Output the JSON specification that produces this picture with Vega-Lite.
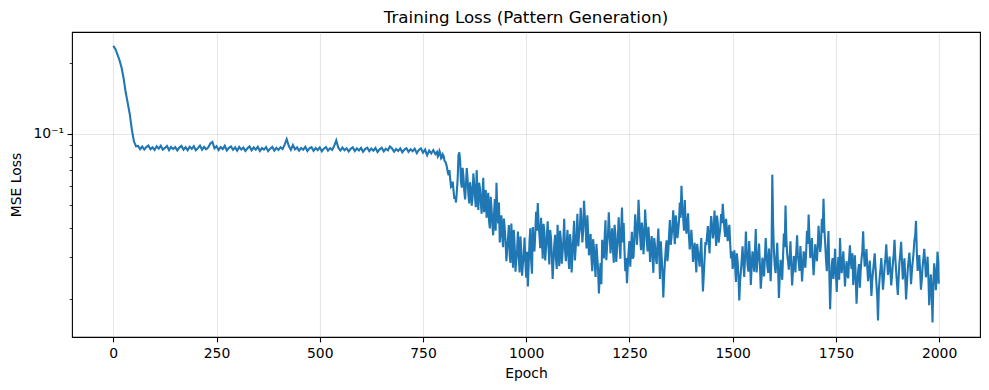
{
"$schema": "https://vega.github.io/schema/vega-lite/v6.json",
"width": 908, "height": 305,
"autosize": {"type": "none"},
"padding": {"left": 72, "top": 32, "right": 9, "bottom": 53},
"background": "white",
"title": {"text": "Training Loss (Pattern Generation)", "font": "DejaVu Sans", "fontSize": 16.7, "fontWeight": "normal", "color": "black", "anchor": "middle", "frame": "group", "baseline": "alphabetic", "offset": 8, "dy": 16},
"config": {
  "view": {"stroke": "black", "strokeWidth": 1.1},
  "axis": {"domain": false, "tickColor": "black", "labelColor": "black", "labelFont": "DejaVu Sans", "labelFontSize": 13.9, "titleFont": "DejaVu Sans", "titleFontSize": 13.9, "titleFontWeight": "normal", "titleColor": "black", "gridColor": "#b0b0b0", "gridWidth": 1.1}
},
"data": {"values": [
{"epoch":0,"loss":0.236},{"epoch":5,"loss":0.229},{"epoch":10,"loss":0.217},{"epoch":15,"loss":0.205},{"epoch":20,"loss":0.191},{"epoch":25,"loss":0.172},{"epoch":30,"loss":0.150},{"epoch":35,"loss":0.135},{"epoch":40,"loss":0.121},{"epoch":45,"loss":0.104},{"epoch":50,"loss":0.093},{"epoch":55,"loss":0.0885},
{"epoch":60,"loss":0.0889},{"epoch":65,"loss":0.0861},{"epoch":70,"loss":0.0884},{"epoch":75,"loss":0.0858},{"epoch":80,"loss":0.0879},{"epoch":85,"loss":0.0893},{"epoch":90,"loss":0.0860},{"epoch":95,"loss":0.0877},{"epoch":100,"loss":0.0855},{"epoch":105,"loss":0.0886},{"epoch":110,"loss":0.0866},{"epoch":115,"loss":0.0890},{"epoch":120,"loss":0.0857},{"epoch":125,"loss":0.0872},{"epoch":130,"loss":0.0888},{"epoch":135,"loss":0.0854},{"epoch":140,"loss":0.0881},{"epoch":145,"loss":0.0862},{"epoch":150,"loss":0.0879},{"epoch":155,"loss":0.0851},{"epoch":160,"loss":0.0875},{"epoch":165,"loss":0.0889},{"epoch":170,"loss":0.0858},{"epoch":175,"loss":0.0878},{"epoch":180,"loss":0.0853},{"epoch":185,"loss":0.0883},{"epoch":190,"loss":0.0864},{"epoch":195,"loss":0.0887},{"epoch":200,"loss":0.0852},{"epoch":205,"loss":0.0870},{"epoch":210,"loss":0.0892},{"epoch":215,"loss":0.0857},{"epoch":220,"loss":0.0880},{"epoch":225,"loss":0.0861},{"epoch":230,"loss":0.0876},{"epoch":235,"loss":0.0911},{"epoch":240,"loss":0.0924},{"epoch":245,"loss":0.0868},{"epoch":250,"loss":0.0886},{"epoch":255,"loss":0.0855},{"epoch":260,"loss":0.0879},{"epoch":265,"loss":0.0862},{"epoch":270,"loss":0.0890},{"epoch":275,"loss":0.0851},{"epoch":280,"loss":0.0873},{"epoch":285,"loss":0.0884},{"epoch":290,"loss":0.0856},{"epoch":295,"loss":0.0877},{"epoch":300,"loss":0.0849},{"epoch":305,"loss":0.0880},{"epoch":310,"loss":0.0858},{"epoch":315,"loss":0.0874},{"epoch":320,"loss":0.0847},{"epoch":325,"loss":0.0869},{"epoch":330,"loss":0.0885},{"epoch":335,"loss":0.0852},{"epoch":340,"loss":0.0876},{"epoch":345,"loss":0.0857},{"epoch":350,"loss":0.0882},{"epoch":355,"loss":0.0846},{"epoch":360,"loss":0.0871},{"epoch":365,"loss":0.0858},{"epoch":370,"loss":0.0879},{"epoch":375,"loss":0.0845},{"epoch":380,"loss":0.0866},{"epoch":385,"loss":0.0881},{"epoch":390,"loss":0.0850},{"epoch":395,"loss":0.0873},{"epoch":400,"loss":0.0855},{"epoch":405,"loss":0.0878},{"epoch":410,"loss":0.0862},{"epoch":415,"loss":0.0901},{"epoch":420,"loss":0.0950},{"epoch":425,"loss":0.0889},{"epoch":430,"loss":0.0856},{"epoch":435,"loss":0.0897},{"epoch":440,"loss":0.0861},{"epoch":445,"loss":0.0876},{"epoch":450,"loss":0.0849},{"epoch":455,"loss":0.0872},{"epoch":460,"loss":0.0857},{"epoch":465,"loss":0.0881},{"epoch":470,"loss":0.0846},{"epoch":475,"loss":0.0868},{"epoch":480,"loss":0.0878},{"epoch":485,"loss":0.0848},{"epoch":490,"loss":0.0871},{"epoch":495,"loss":0.0854},{"epoch":500,"loss":0.0877},{"epoch":505,"loss":0.0844},{"epoch":510,"loss":0.0866},{"epoch":515,"loss":0.0880},{"epoch":520,"loss":0.0849},{"epoch":525,"loss":0.0870},{"epoch":530,"loss":0.0856},{"epoch":535,"loss":0.0889},{"epoch":540,"loss":0.0938},{"epoch":545,"loss":0.0874},{"epoch":550,"loss":0.0850},{"epoch":555,"loss":0.0875},{"epoch":560,"loss":0.0853},{"epoch":565,"loss":0.0869},{"epoch":570,"loss":0.0843},{"epoch":575,"loss":0.0865},{"epoch":580,"loss":0.0877},{"epoch":585,"loss":0.0846},{"epoch":590,"loss":0.0868},{"epoch":595,"loss":0.0851},{"epoch":600,"loss":0.0872},{"epoch":605,"loss":0.0840},{"epoch":610,"loss":0.0862},{"epoch":615,"loss":0.0874},{"epoch":620,"loss":0.0845},{"epoch":625,"loss":0.0866},{"epoch":630,"loss":0.0849},{"epoch":635,"loss":0.0871},{"epoch":640,"loss":0.0838},{"epoch":645,"loss":0.0860},{"epoch":650,"loss":0.0873},{"epoch":655,"loss":0.0843},{"epoch":660,"loss":0.0865},{"epoch":665,"loss":0.0852},{"epoch":670,"loss":0.0885},{"epoch":675,"loss":0.0868},{"epoch":680,"loss":0.0841},{"epoch":685,"loss":0.0863},{"epoch":690,"loss":0.0847},{"epoch":695,"loss":0.0868},{"epoch":700,"loss":0.0836},{"epoch":705,"loss":0.0858},{"epoch":710,"loss":0.0870},{"epoch":715,"loss":0.0839},{"epoch":720,"loss":0.0861},{"epoch":725,"loss":0.0844},{"epoch":730,"loss":0.0866},{"epoch":735,"loss":0.0829},{"epoch":740,"loss":0.0855},{"epoch":745,"loss":0.0868},{"epoch":750,"loss":0.0833},{"epoch":755,"loss":0.0858},{"epoch":760,"loss":0.0812},{"epoch":765,"loss":0.0849},{"epoch":770,"loss":0.0826},{"epoch":775,"loss":0.0854},{"epoch":780,"loss":0.0821},
{"epoch":784,"loss":0.0838},{"epoch":786,"loss":0.0801},{"epoch":788,"loss":0.0812},{"epoch":790,"loss":0.0846},{"epoch":792,"loss":0.0829},{"epoch":794,"loss":0.0788},{"epoch":796,"loss":0.0795},{"epoch":798,"loss":0.0819},{"epoch":800,"loss":0.0806},{"epoch":802,"loss":0.0771},{"epoch":804,"loss":0.0762},{"epoch":806,"loss":0.0748},{"epoch":808,"loss":0.0722},{"epoch":810,"loss":0.0689},{"epoch":812,"loss":0.0668},{"epoch":814,"loss":0.0702},{"epoch":816,"loss":0.0641},{"epoch":818,"loss":0.0597},{"epoch":820,"loss":0.0603},{"epoch":822,"loss":0.0628},{"epoch":824,"loss":0.0575},{"epoch":826,"loss":0.0531},{"epoch":828,"loss":0.0544},{"epoch":830,"loss":0.0512},{"epoch":832,"loss":0.0571},{"epoch":834,"loss":0.0645},{"epoch":836,"loss":0.0812},{"epoch":838,"loss":0.0835},{"epoch":840,"loss":0.0768},{"epoch":842,"loss":0.0627},{"epoch":844,"loss":0.0592},{"epoch":846,"loss":0.0718},{"epoch":848,"loss":0.0661},{"epoch":850,"loss":0.0574},{"epoch":852,"loss":0.0528},{"epoch":854,"loss":0.0609},{"epoch":856,"loss":0.0716},{"epoch":858,"loss":0.0647},{"epoch":860,"loss":0.0553},{"epoch":862,"loss":0.0508},{"epoch":864,"loss":0.0624},{"epoch":866,"loss":0.0589},{"epoch":868,"loss":0.0497},{"epoch":870,"loss":0.0536},{"epoch":872,"loss":0.0680},{"epoch":874,"loss":0.0613},{"epoch":876,"loss":0.0541},{"epoch":878,"loss":0.0489},{"epoch":880,"loss":0.0702},{"epoch":882,"loss":0.0573},{"epoch":884,"loss":0.0476},{"epoch":886,"loss":0.0621},{"epoch":888,"loss":0.0588},{"epoch":890,"loss":0.0512},{"epoch":892,"loss":0.0459},{"epoch":894,"loss":0.0548},{"epoch":896,"loss":0.0652},{"epoch":898,"loss":0.0466},{"epoch":900,"loss":0.0505},{"epoch":902,"loss":0.0579},{"epoch":904,"loss":0.0441},{"epoch":906,"loss":0.0497},{"epoch":908,"loss":0.0563},{"epoch":910,"loss":0.0427},{"epoch":912,"loss":0.0398},{"epoch":914,"loss":0.0541},{"epoch":916,"loss":0.0486},{"epoch":918,"loss":0.0412},{"epoch":920,"loss":0.0372},{"epoch":922,"loss":0.0456},{"epoch":924,"loss":0.0530},{"epoch":926,"loss":0.0389},{"epoch":928,"loss":0.0621},{"epoch":930,"loss":0.0476},{"epoch":932,"loss":0.0418},{"epoch":934,"loss":0.0512},{"epoch":936,"loss":0.0347},{"epoch":938,"loss":0.0398},{"epoch":940,"loss":0.0452},{"epoch":942,"loss":0.0367},{"epoch":944,"loss":0.0331},{"epoch":946,"loss":0.0438},{"epoch":948,"loss":0.0396},{"epoch":950,"loss":0.0352},{"epoch":952,"loss":0.0289},{"epoch":954,"loss":0.0327},{"epoch":956,"loss":0.0362},{"epoch":958,"loss":0.0411},{"epoch":960,"loss":0.0305},{"epoch":962,"loss":0.0284},{"epoch":964,"loss":0.0417},{"epoch":966,"loss":0.0346},{"epoch":968,"loss":0.0271},{"epoch":970,"loss":0.0392},{"epoch":972,"loss":0.0338},{"epoch":974,"loss":0.0261},{"epoch":976,"loss":0.0294},{"epoch":978,"loss":0.0325},{"epoch":980,"loss":0.0386},{"epoch":982,"loss":0.0298},{"epoch":984,"loss":0.0259},{"epoch":986,"loss":0.0368},{"epoch":988,"loss":0.0321},{"epoch":990,"loss":0.0251},{"epoch":992,"loss":0.0282},{"epoch":994,"loss":0.0309},{"epoch":996,"loss":0.0364},{"epoch":998,"loss":0.0286},{"epoch":1000,"loss":0.0246},
{"epoch":1002,"loss":0.0317},{"epoch":1004,"loss":0.0226},{"epoch":1006,"loss":0.0278},{"epoch":1008,"loss":0.0352},{"epoch":1010,"loss":0.0398},{"epoch":1012,"loss":0.0291},{"epoch":1014,"loss":0.0256},{"epoch":1016,"loss":0.0403},{"epoch":1018,"loss":0.0347},{"epoch":1020,"loss":0.0318},{"epoch":1022,"loss":0.0382},{"epoch":1024,"loss":0.0468},{"epoch":1026,"loss":0.0389},{"epoch":1028,"loss":0.0509},{"epoch":1030,"loss":0.0418},{"epoch":1032,"loss":0.0372},{"epoch":1034,"loss":0.0328},{"epoch":1036,"loss":0.0441},{"epoch":1038,"loss":0.0357},{"epoch":1040,"loss":0.0296},{"epoch":1042,"loss":0.0416},{"epoch":1044,"loss":0.0385},{"epoch":1046,"loss":0.0291},{"epoch":1048,"loss":0.0327},{"epoch":1050,"loss":0.0368},{"epoch":1052,"loss":0.0426},{"epoch":1054,"loss":0.0336},{"epoch":1056,"loss":0.0280},{"epoch":1058,"loss":0.0392},{"epoch":1060,"loss":0.0364},{"epoch":1062,"loss":0.0306},{"epoch":1064,"loss":0.0243},{"epoch":1066,"loss":0.0287},{"epoch":1068,"loss":0.0339},{"epoch":1070,"loss":0.0374},{"epoch":1072,"loss":0.0297},{"epoch":1074,"loss":0.0268},{"epoch":1076,"loss":0.0412},{"epoch":1078,"loss":0.0331},{"epoch":1080,"loss":0.0275},{"epoch":1082,"loss":0.0389},{"epoch":1084,"loss":0.0358},{"epoch":1086,"loss":0.0282},{"epoch":1088,"loss":0.0313},{"epoch":1090,"loss":0.0354},{"epoch":1092,"loss":0.0437},{"epoch":1094,"loss":0.0325},{"epoch":1096,"loss":0.0289},{"epoch":1098,"loss":0.0341},{"epoch":1100,"loss":0.0392},{"epoch":1102,"loss":0.0305},{"epoch":1104,"loss":0.0268},{"epoch":1106,"loss":0.0376},{"epoch":1108,"loss":0.0345},{"epoch":1110,"loss":0.0259},{"epoch":1112,"loss":0.0304},{"epoch":1114,"loss":0.0367},{"epoch":1116,"loss":0.0428},{"epoch":1118,"loss":0.0291},{"epoch":1120,"loss":0.0331},{"epoch":1122,"loss":0.0378},{"epoch":1124,"loss":0.0459},{"epoch":1126,"loss":0.0334},{"epoch":1128,"loss":0.0372},{"epoch":1130,"loss":0.0402},{"epoch":1132,"loss":0.0486},{"epoch":1134,"loss":0.0418},{"epoch":1136,"loss":0.0347},{"epoch":1138,"loss":0.0392},{"epoch":1140,"loss":0.0521},{"epoch":1142,"loss":0.0445},{"epoch":1144,"loss":0.0398},{"epoch":1146,"loss":0.0327},{"epoch":1148,"loss":0.0452},{"epoch":1150,"loss":0.0381},{"epoch":1152,"loss":0.0306},{"epoch":1154,"loss":0.0342},{"epoch":1156,"loss":0.0377},{"epoch":1158,"loss":0.0297},{"epoch":1160,"loss":0.0262},{"epoch":1162,"loss":0.0358},{"epoch":1164,"loss":0.0331},{"epoch":1166,"loss":0.0279},{"epoch":1168,"loss":0.0248},{"epoch":1170,"loss":0.0342},{"epoch":1172,"loss":0.0303},{"epoch":1174,"loss":0.0268},{"epoch":1176,"loss":0.0211},{"epoch":1178,"loss":0.0247},{"epoch":1180,"loss":0.0284},{"epoch":1182,"loss":0.0231},{"epoch":1184,"loss":0.0356},{"epoch":1186,"loss":0.0318},{"epoch":1188,"loss":0.0297},{"epoch":1190,"loss":0.0364},{"epoch":1192,"loss":0.0431},{"epoch":1194,"loss":0.0292},{"epoch":1196,"loss":0.0338},{"epoch":1198,"loss":0.0372},{"epoch":1200,"loss":0.0465},{"epoch":1202,"loss":0.0389},{"epoch":1204,"loss":0.0312},{"epoch":1206,"loss":0.0351},{"epoch":1208,"loss":0.0398},{"epoch":1210,"loss":0.0326},{"epoch":1212,"loss":0.0285},{"epoch":1214,"loss":0.0412},{"epoch":1216,"loss":0.0376},{"epoch":1218,"loss":0.0287},{"epoch":1220,"loss":0.0324},{"epoch":1222,"loss":0.0368},{"epoch":1224,"loss":0.0443},{"epoch":1226,"loss":0.0351},{"epoch":1228,"loss":0.0296},{"epoch":1230,"loss":0.0395},{"epoch":1232,"loss":0.0488},{"epoch":1234,"loss":0.0347},{"epoch":1236,"loss":0.0419},{"epoch":1238,"loss":0.0321},{"epoch":1240,"loss":0.0262},{"epoch":1242,"loss":0.0298},{"epoch":1244,"loss":0.0233},{"epoch":1246,"loss":0.0276},{"epoch":1248,"loss":0.0318},{"epoch":1250,"loss":0.0352},
{"epoch":1252,"loss":0.0274},{"epoch":1254,"loss":0.0331},{"epoch":1256,"loss":0.0385},{"epoch":1258,"loss":0.0296},{"epoch":1260,"loss":0.0302},{"epoch":1262,"loss":0.0371},{"epoch":1264,"loss":0.0457},{"epoch":1266,"loss":0.0398},{"epoch":1268,"loss":0.0339},{"epoch":1270,"loss":0.0384},{"epoch":1272,"loss":0.0526},{"epoch":1274,"loss":0.0438},{"epoch":1276,"loss":0.0367},{"epoch":1278,"loss":0.0322},{"epoch":1280,"loss":0.0421},{"epoch":1282,"loss":0.0389},{"epoch":1284,"loss":0.0309},{"epoch":1286,"loss":0.0364},{"epoch":1288,"loss":0.0478},{"epoch":1290,"loss":0.0412},{"epoch":1292,"loss":0.0352},{"epoch":1294,"loss":0.0318},{"epoch":1296,"loss":0.0404},{"epoch":1298,"loss":0.0352},{"epoch":1300,"loss":0.0287},{"epoch":1302,"loss":0.0333},{"epoch":1304,"loss":0.0369},{"epoch":1306,"loss":0.0302},{"epoch":1308,"loss":0.0258},{"epoch":1310,"loss":0.0362},{"epoch":1312,"loss":0.0336},{"epoch":1314,"loss":0.0297},{"epoch":1316,"loss":0.0281},{"epoch":1318,"loss":0.0341},{"epoch":1320,"loss":0.0397},{"epoch":1322,"loss":0.0312},{"epoch":1324,"loss":0.0243},{"epoch":1326,"loss":0.0351},{"epoch":1328,"loss":0.0302},{"epoch":1330,"loss":0.0262},{"epoch":1332,"loss":0.0203},{"epoch":1334,"loss":0.0248},{"epoch":1336,"loss":0.0288},{"epoch":1338,"loss":0.0327},{"epoch":1340,"loss":0.0354},{"epoch":1342,"loss":0.0289},{"epoch":1344,"loss":0.0316},{"epoch":1346,"loss":0.0376},{"epoch":1348,"loss":0.0432},{"epoch":1350,"loss":0.0339},{"epoch":1352,"loss":0.0368},{"epoch":1354,"loss":0.0402},{"epoch":1356,"loss":0.0475},{"epoch":1358,"loss":0.0391},{"epoch":1360,"loss":0.0341},{"epoch":1362,"loss":0.0452},{"epoch":1364,"loss":0.0419},{"epoch":1366,"loss":0.0362},{"epoch":1368,"loss":0.0386},{"epoch":1370,"loss":0.0428},{"epoch":1372,"loss":0.0512},{"epoch":1374,"loss":0.0441},{"epoch":1376,"loss":0.0603},{"epoch":1378,"loss":0.0492},{"epoch":1380,"loss":0.0447},{"epoch":1382,"loss":0.0389},{"epoch":1384,"loss":0.0525},{"epoch":1386,"loss":0.0432},{"epoch":1388,"loss":0.0378},{"epoch":1390,"loss":0.0411},{"epoch":1392,"loss":0.0461},{"epoch":1394,"loss":0.0372},{"epoch":1396,"loss":0.0324},{"epoch":1398,"loss":0.0352},{"epoch":1400,"loss":0.0392},{"epoch":1402,"loss":0.0341},{"epoch":1404,"loss":0.0287},{"epoch":1406,"loss":0.0312},{"epoch":1408,"loss":0.0346},{"epoch":1410,"loss":0.0298},{"epoch":1412,"loss":0.0259},{"epoch":1414,"loss":0.0342},{"epoch":1416,"loss":0.0318},{"epoch":1418,"loss":0.0296},{"epoch":1420,"loss":0.0274},{"epoch":1422,"loss":0.0318},{"epoch":1424,"loss":0.0362},{"epoch":1426,"loss":0.0277},{"epoch":1428,"loss":0.0215},{"epoch":1430,"loss":0.0252},{"epoch":1432,"loss":0.0296},{"epoch":1434,"loss":0.0348},{"epoch":1436,"loss":0.0338},{"epoch":1438,"loss":0.0371},{"epoch":1440,"loss":0.0407},{"epoch":1442,"loss":0.0354},{"epoch":1444,"loss":0.0312},{"epoch":1446,"loss":0.0392},{"epoch":1448,"loss":0.0449},{"epoch":1450,"loss":0.0408},{"epoch":1452,"loss":0.0361},{"epoch":1454,"loss":0.0386},{"epoch":1456,"loss":0.0473},{"epoch":1458,"loss":0.0392},{"epoch":1460,"loss":0.0335},{"epoch":1462,"loss":0.0451},{"epoch":1464,"loss":0.0418},{"epoch":1466,"loss":0.0346},{"epoch":1468,"loss":0.0372},{"epoch":1470,"loss":0.0398},{"epoch":1472,"loss":0.0458},{"epoch":1474,"loss":0.0419},{"epoch":1476,"loss":0.0506},{"epoch":1478,"loss":0.0447},{"epoch":1480,"loss":0.0394},{"epoch":1482,"loss":0.0366},{"epoch":1484,"loss":0.0437},{"epoch":1486,"loss":0.0398},{"epoch":1488,"loss":0.0351},{"epoch":1490,"loss":0.0386},{"epoch":1492,"loss":0.0412},{"epoch":1494,"loss":0.0342},{"epoch":1496,"loss":0.0297},{"epoch":1498,"loss":0.0318},
{"epoch":1500,"loss":0.0268},{"epoch":1502,"loss":0.0291},{"epoch":1504,"loss":0.0321},{"epoch":1506,"loss":0.0274},{"epoch":1508,"loss":0.0236},{"epoch":1510,"loss":0.0312},{"epoch":1512,"loss":0.0289},{"epoch":1514,"loss":0.0251},{"epoch":1516,"loss":0.0197},{"epoch":1518,"loss":0.0238},{"epoch":1520,"loss":0.0262},{"epoch":1522,"loss":0.0295},{"epoch":1524,"loss":0.0334},{"epoch":1526,"loss":0.0282},{"epoch":1528,"loss":0.0248},{"epoch":1530,"loss":0.0301},{"epoch":1532,"loss":0.0386},{"epoch":1534,"loss":0.0318},{"epoch":1536,"loss":0.0279},{"epoch":1538,"loss":0.0261},{"epoch":1540,"loss":0.0352},{"epoch":1542,"loss":0.0297},{"epoch":1544,"loss":0.0229},{"epoch":1546,"loss":0.0276},{"epoch":1548,"loss":0.0318},{"epoch":1550,"loss":0.0292},{"epoch":1552,"loss":0.0261},{"epoch":1554,"loss":0.0318},{"epoch":1556,"loss":0.0395},{"epoch":1558,"loss":0.0259},{"epoch":1560,"loss":0.0287},{"epoch":1562,"loss":0.0312},{"epoch":1564,"loss":0.0343},{"epoch":1566,"loss":0.0279},{"epoch":1568,"loss":0.0221},{"epoch":1570,"loss":0.0248},{"epoch":1572,"loss":0.0299},{"epoch":1574,"loss":0.0276},{"epoch":1576,"loss":0.0249},{"epoch":1578,"loss":0.0298},{"epoch":1580,"loss":0.0362},{"epoch":1582,"loss":0.0312},{"epoch":1584,"loss":0.0275},{"epoch":1586,"loss":0.0258},{"epoch":1588,"loss":0.0327},{"epoch":1590,"loss":0.0282},{"epoch":1592,"loss":0.0238},{"epoch":1594,"loss":0.0301},{"epoch":1596,"loss":0.0672},{"epoch":1598,"loss":0.0412},{"epoch":1600,"loss":0.0316},{"epoch":1602,"loss":0.0276},{"epoch":1604,"loss":0.0257},{"epoch":1606,"loss":0.0301},{"epoch":1608,"loss":0.0346},{"epoch":1610,"loss":0.0268},{"epoch":1612,"loss":0.0202},{"epoch":1614,"loss":0.0248},{"epoch":1616,"loss":0.0293},{"epoch":1618,"loss":0.0271},{"epoch":1620,"loss":0.0241},{"epoch":1622,"loss":0.0302},{"epoch":1624,"loss":0.0378},{"epoch":1626,"loss":0.0331},{"epoch":1628,"loss":0.0497},{"epoch":1630,"loss":0.0362},{"epoch":1632,"loss":0.0309},{"epoch":1634,"loss":0.0289},{"epoch":1636,"loss":0.0266},{"epoch":1638,"loss":0.0302},{"epoch":1640,"loss":0.0351},{"epoch":1642,"loss":0.0278},{"epoch":1644,"loss":0.0228},{"epoch":1646,"loss":0.0261},{"epoch":1648,"loss":0.0304},{"epoch":1650,"loss":0.0286},{"epoch":1652,"loss":0.0259},{"epoch":1654,"loss":0.0317},{"epoch":1656,"loss":0.0372},{"epoch":1658,"loss":0.0305},{"epoch":1660,"loss":0.0284},{"epoch":1662,"loss":0.0263},{"epoch":1664,"loss":0.0335},{"epoch":1666,"loss":0.0289},{"epoch":1668,"loss":0.0237},{"epoch":1670,"loss":0.0272},{"epoch":1672,"loss":0.0318},{"epoch":1674,"loss":0.0296},{"epoch":1676,"loss":0.0271},{"epoch":1678,"loss":0.0318},{"epoch":1680,"loss":0.0389},{"epoch":1682,"loss":0.0342},{"epoch":1684,"loss":0.0455},{"epoch":1686,"loss":0.0362},{"epoch":1688,"loss":0.0298},{"epoch":1690,"loss":0.0321},{"epoch":1692,"loss":0.0362},{"epoch":1694,"loss":0.0296},{"epoch":1696,"loss":0.0252},{"epoch":1698,"loss":0.0288},{"epoch":1700,"loss":0.0341},{"epoch":1702,"loss":0.0312},{"epoch":1704,"loss":0.0289},{"epoch":1706,"loss":0.0331},{"epoch":1708,"loss":0.0408},{"epoch":1710,"loss":0.0352},{"epoch":1712,"loss":0.0316},{"epoch":1714,"loss":0.0348},{"epoch":1716,"loss":0.0437},{"epoch":1718,"loss":0.0382},{"epoch":1720,"loss":0.0531},{"epoch":1722,"loss":0.0398},{"epoch":1724,"loss":0.0346},{"epoch":1726,"loss":0.0295},{"epoch":1728,"loss":0.0262},{"epoch":1730,"loss":0.0318},{"epoch":1732,"loss":0.0388},{"epoch":1734,"loss":0.0262},{"epoch":1736,"loss":0.0181},{"epoch":1738,"loss":0.0236},{"epoch":1740,"loss":0.0279},{"epoch":1742,"loss":0.0298},{"epoch":1744,"loss":0.0243},{"epoch":1746,"loss":0.0271},{"epoch":1748,"loss":0.0326},{"epoch":1750,"loss":0.0258},
{"epoch":1752,"loss":0.0214},{"epoch":1754,"loss":0.0262},{"epoch":1756,"loss":0.0301},{"epoch":1758,"loss":0.0241},{"epoch":1760,"loss":0.0362},{"epoch":1762,"loss":0.0292},{"epoch":1764,"loss":0.0257},{"epoch":1766,"loss":0.0286},{"epoch":1768,"loss":0.0318},{"epoch":1770,"loss":0.0268},{"epoch":1772,"loss":0.0226},{"epoch":1774,"loss":0.0262},{"epoch":1776,"loss":0.0289},{"epoch":1778,"loss":0.0251},{"epoch":1780,"loss":0.0245},{"epoch":1782,"loss":0.0296},{"epoch":1784,"loss":0.0337},{"epoch":1786,"loss":0.0289},{"epoch":1788,"loss":0.0268},{"epoch":1790,"loss":0.0312},{"epoch":1792,"loss":0.0229},{"epoch":1794,"loss":0.0258},{"epoch":1796,"loss":0.0306},{"epoch":1798,"loss":0.0249},{"epoch":1800,"loss":0.0191},{"epoch":1802,"loss":0.0232},{"epoch":1804,"loss":0.0264},{"epoch":1806,"loss":0.0281},{"epoch":1808,"loss":0.0223},{"epoch":1810,"loss":0.0262},{"epoch":1812,"loss":0.0295},{"epoch":1814,"loss":0.0318},{"epoch":1816,"loss":0.0387},{"epoch":1818,"loss":0.0309},{"epoch":1820,"loss":0.0274},{"epoch":1822,"loss":0.0296},{"epoch":1824,"loss":0.0325},{"epoch":1826,"loss":0.0272},{"epoch":1828,"loss":0.0238},{"epoch":1830,"loss":0.0262},{"epoch":1832,"loss":0.0291},{"epoch":1834,"loss":0.0251},{"epoch":1836,"loss":0.0206},{"epoch":1838,"loss":0.0239},{"epoch":1840,"loss":0.0262},{"epoch":1842,"loss":0.0286},{"epoch":1844,"loss":0.0312},{"epoch":1846,"loss":0.0271},{"epoch":1848,"loss":0.0234},{"epoch":1850,"loss":0.0208},{"epoch":1852,"loss":0.0162},{"epoch":1854,"loss":0.0219},{"epoch":1856,"loss":0.0247},{"epoch":1858,"loss":0.0268},{"epoch":1860,"loss":0.0298},{"epoch":1862,"loss":0.0256},{"epoch":1864,"loss":0.0219},{"epoch":1866,"loss":0.0242},{"epoch":1868,"loss":0.0276},{"epoch":1870,"loss":0.0298},{"epoch":1872,"loss":0.0341},{"epoch":1874,"loss":0.0291},{"epoch":1876,"loss":0.0253},{"epoch":1878,"loss":0.0271},{"epoch":1880,"loss":0.0302},{"epoch":1882,"loss":0.0262},{"epoch":1884,"loss":0.0228},{"epoch":1886,"loss":0.0252},{"epoch":1888,"loss":0.0283},{"epoch":1890,"loss":0.0309},{"epoch":1892,"loss":0.0356},{"epoch":1894,"loss":0.0296},{"epoch":1896,"loss":0.0261},{"epoch":1898,"loss":0.0232},{"epoch":1900,"loss":0.0208},{"epoch":1902,"loss":0.0246},{"epoch":1904,"loss":0.0287},{"epoch":1906,"loss":0.0312},{"epoch":1908,"loss":0.0349},{"epoch":1910,"loss":0.0289},{"epoch":1912,"loss":0.0242},{"epoch":1914,"loss":0.0268},{"epoch":1916,"loss":0.0297},{"epoch":1918,"loss":0.0246},{"epoch":1920,"loss":0.0199},{"epoch":1922,"loss":0.0232},{"epoch":1924,"loss":0.0266},{"epoch":1926,"loss":0.0291},{"epoch":1928,"loss":0.0314},{"epoch":1930,"loss":0.0276},{"epoch":1932,"loss":0.0231},{"epoch":1934,"loss":0.0262},{"epoch":1936,"loss":0.0286},{"epoch":1938,"loss":0.0312},{"epoch":1940,"loss":0.0352},{"epoch":1942,"loss":0.0371},{"epoch":1944,"loss":0.0428},{"epoch":1946,"loss":0.0318},{"epoch":1948,"loss":0.0263},{"epoch":1950,"loss":0.0281},{"epoch":1952,"loss":0.0307},{"epoch":1954,"loss":0.0262},{"epoch":1956,"loss":0.0219},{"epoch":1958,"loss":0.0241},{"epoch":1960,"loss":0.0275},{"epoch":1962,"loss":0.0298},{"epoch":1964,"loss":0.0326},{"epoch":1966,"loss":0.0286},{"epoch":1968,"loss":0.0247},{"epoch":1970,"loss":0.0266},{"epoch":1972,"loss":0.0302},{"epoch":1974,"loss":0.0248},{"epoch":1976,"loss":0.0188},{"epoch":1978,"loss":0.0221},{"epoch":1980,"loss":0.0254},{"epoch":1982,"loss":0.0212},{"epoch":1984,"loss":0.0159},{"epoch":1986,"loss":0.0232},{"epoch":1988,"loss":0.0283},{"epoch":1990,"loss":0.0262},{"epoch":1992,"loss":0.0218},{"epoch":1994,"loss":0.0246},{"epoch":1996,"loss":0.0317},{"epoch":1998,"loss":0.0286},{"epoch":1999,"loss":0.0232}
]},
"mark": {"type": "line", "color": "#1f77b4", "strokeWidth": 2.1, "clip": true},
"encoding": {
  "x": {"field": "epoch", "type": "quantitative",
    "scale": {"domain": [-100, 2099], "nice": false, "zero": false},
    "axis": {"values": [0,250,500,750,1000,1250,1500,1750,2000], "format": "d", "title": "Epoch", "tickSize": 4.9, "tickWidth": 1.1, "labelPadding": 4.5, "titlePadding": 6, "grid": true, "gridOpacity": 0.3}},
  "y": {"field": "loss", "type": "quantitative",
    "scale": {"type": "log", "domain": [0.0138, 0.27], "nice": false},
    "axis": {"values": [0.02,0.03,0.04,0.05,0.06,0.07,0.08,0.09,0.1,0.2], "labelExpr": "datum.value == 0.1 ? '10⁻¹' : ''", "title": "MSE Loss", "labelPadding": 3.5, "titlePadding": 10,
      "tickSize": {"condition": {"test": "datum.value == 0.1", "value": 4.9}, "value": 2.8},
      "tickWidth": {"condition": {"test": "datum.value == 0.1", "value": 1.1}, "value": 0.8},
      "grid": true,
      "gridOpacity": {"condition": {"test": "datum.value == 0.1", "value": 0.3}, "value": 0}}}
}
}
